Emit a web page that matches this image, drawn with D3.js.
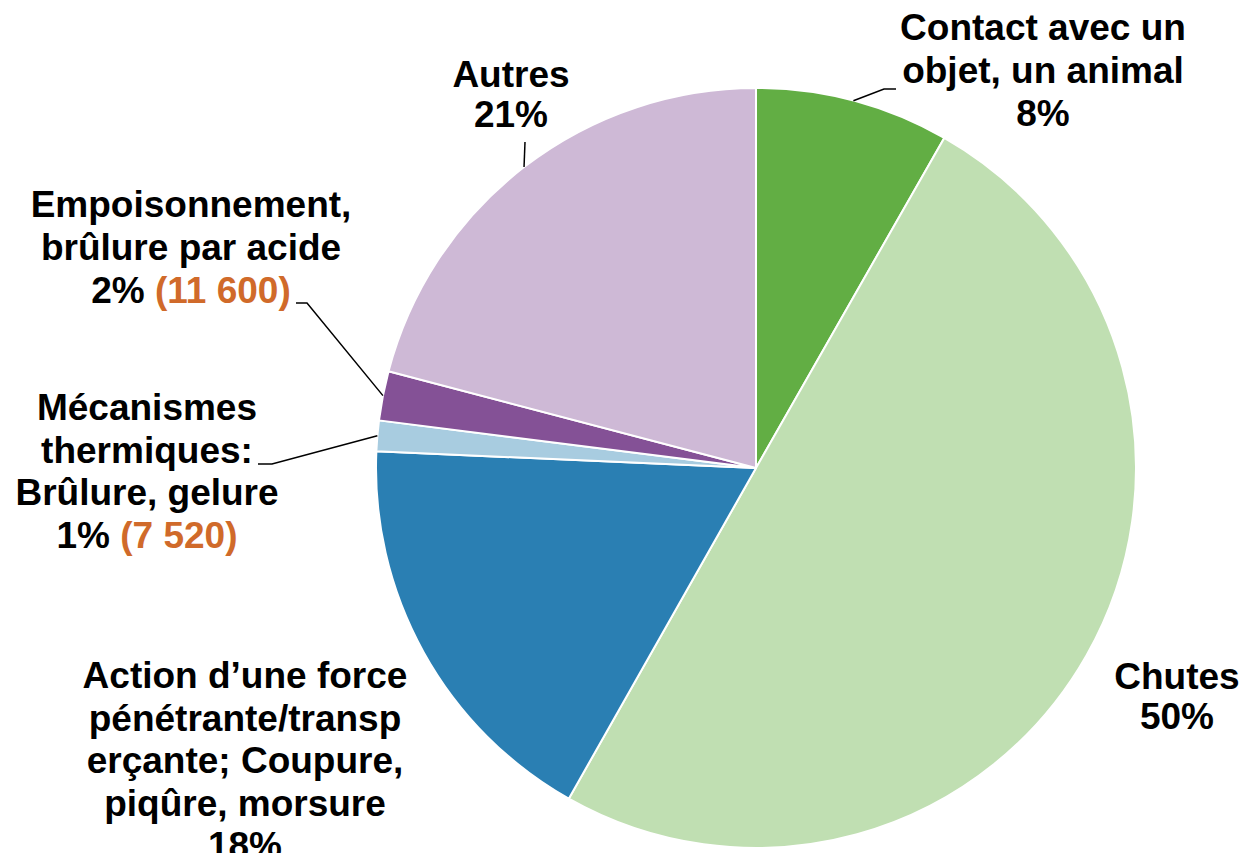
<!DOCTYPE html>
<html>
<head>
<meta charset="utf-8">
<script src="https://cdn.jsdelivr.net/npm/d3@7"></script>
<style>
  html, body { margin: 0; padding: 0; background: #ffffff; }
  svg { display: block; }
</style>
</head>
<body>
<svg id="chart" width="1242" height="853"></svg>
<script>
// ---- data ----
const categories = [
  "Contact avec un objet, un animal",
  "Chutes",
  "Action d’une force pénétrante/transperçante; Coupure, piqûre, morsure",
  "Mécanismes thermiques: Brûlure, gelure",
  "Empoisonnement, brûlure par acide",
  "Autres"
];
const shares = [8.25, 49.95, 17.5, 1.3, 2.1, 20.9];
const pctLabels = ["8%", "50%", "18%", "1%", "2%", "21%"];
const countLabels = ["", "", "", "(7 520)", "(11 600)", ""];
const nameLines = [
  ["Contact avec un", "objet, un animal"],
  ["Chutes"],
  ["Action d’une force", "pénétrante/transp", "erçante; Coupure,", "piqûre, morsure"],
  ["Mécanismes", "thermiques:", "Brûlure, gelure"],
  ["Empoisonnement,", "brûlure par acide"],
  ["Autres"]
];

// ---- styling / layout ----
const colors = ["#62ae44", "#c0dfb2", "#2a7fb3", "#a8cce0", "#845196", "#ceb9d6"];
const cx = 756, cy = 468, R = 380;
const fontSize = 37;
const labelPos = [ // x center, first baseline, line step
  {x: 1043, y: 40, step: 43},
  {x: 1177, y: 689, step: 40},
  {x: 245, y: 688, step: 42.5},
  {x: 147, y: 420, step: 42.7},
  {x: 191, y: 217, step: 43},
  {x: 511, y: 87, step: 40}
];
// leader line bend points (label side), null = no leader
const leaders = [
  [[884, 89], [896, 89]],
  null,
  null,
  [[272, 464], [258, 464]],
  [[307, 303], [296, 303]],
  [[525, 142]]
];

const svg = d3.select("#chart");
const g = svg.append("g").attr("transform", `translate(${cx},${cy})`);

const pie = d3.pie().sort(null).value(d => d)(shares);
const arc = d3.arc().innerRadius(0).outerRadius(R);

g.selectAll("path.slice")
  .data(pie)
  .join("path")
  .attr("class", "slice")
  .attr("d", arc)
  .attr("fill", (d, i) => colors[i])
  .attr("stroke", "#ffffff")
  .attr("stroke-width", 2)
  .attr("stroke-linejoin", "round");

// leader lines
pie.forEach((d, i) => {
  if (!leaders[i]) return;
  const a = (d.startAngle + d.endAngle) / 2;
  const p0 = [cx + R * Math.sin(a), cy - R * Math.cos(a)];
  const pts = [p0, ...leaders[i]];
  svg.append("path")
    .attr("d", d3.line()(pts))
    .attr("fill", "none")
    .attr("stroke", "#000000")
    .attr("stroke-width", 1.5);
});

// labels
categories.forEach((c, i) => {
  const lp = labelPos[i];
  const t = svg.append("text")
    .attr("x", lp.x)
    .attr("y", lp.y)
    .attr("text-anchor", "middle")
    .attr("font-family", "'Liberation Sans', Arial, sans-serif")
    .attr("font-weight", "bold")
    .attr("font-size", fontSize)
    .attr("fill", "#000000");
  nameLines[i].forEach((ln, k) => {
    t.append("tspan").attr("x", lp.x).attr("y", lp.y + k * lp.step).text(ln);
  });
  const last = t.append("tspan").attr("x", lp.x).attr("y", lp.y + nameLines[i].length * lp.step);
  last.append("tspan").text(pctLabels[i]);
  if (countLabels[i]) {
    last.append("tspan").text(" ");
    last.append("tspan").attr("fill", "#d06a2a").text(countLabels[i]);
  }
});
</script>
</body>
</html>
